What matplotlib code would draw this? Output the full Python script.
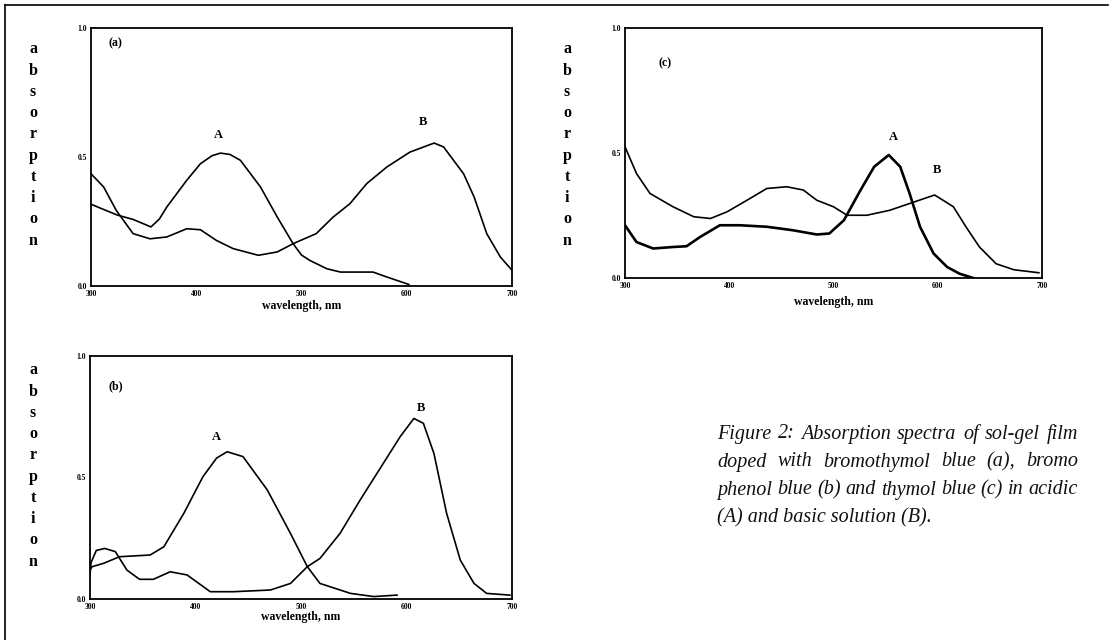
import matplotlib.pyplot as plt
from matplotlib.lines import Line2D

plt.rcParams['font.family'] = ['Liberation Serif', 'DejaVu Serif']

# (a) bromothymol blue
a_wl_acid = [300, 310, 325, 340, 357, 365, 372, 391, 404, 415, 423, 432, 442, 461, 477, 492, 500,
             508, 524, 537, 568, 581, 602]
a_abs_acid = [0.317, 0.30, 0.275, 0.258, 0.229, 0.26, 0.306, 0.41, 0.474, 0.505, 0.515, 0.51, 0.487,
              0.384, 0.267, 0.164, 0.12, 0.099, 0.067, 0.054, 0.054, 0.035, 0.006]
a_wl_base = [300, 312, 324, 340, 356, 372, 391, 404, 419, 435, 459, 477, 492, 514, 530, 546, 562,
             581, 603, 626, 635, 654, 664, 676, 689, 700]
a_abs_base = [0.435, 0.384, 0.293, 0.203, 0.183, 0.19, 0.222, 0.218, 0.177, 0.145, 0.119, 0.132,
              0.164, 0.203, 0.267, 0.319, 0.397, 0.461, 0.519, 0.554, 0.539, 0.435, 0.345, 0.203,
              0.112, 0.061]

# (b) bromophenol blue
b_wl_acid = [300, 302, 313, 328, 357, 370, 389, 407, 420, 430, 445, 468, 490, 506, 518, 547, 569, 591]
b_abs_acid = [0.12, 0.133, 0.147, 0.174, 0.181, 0.215, 0.353, 0.503, 0.58, 0.606, 0.586, 0.449,
              0.27, 0.133, 0.064, 0.023, 0.01, 0.016]
b_wl_base = [300, 301, 306, 314, 324, 335, 347, 360, 376, 392, 414, 436, 471, 490, 506, 518, 537,
             556, 578, 594, 607, 616, 626, 638, 651, 664, 676, 698]
b_abs_base = [0.10, 0.15, 0.20, 0.208, 0.195, 0.119, 0.081, 0.081, 0.112, 0.099, 0.03, 0.03, 0.037,
              0.064, 0.133, 0.167, 0.27, 0.407, 0.558, 0.668, 0.743, 0.723, 0.599, 0.353, 0.16,
              0.064, 0.023, 0.016]

# (c) thymol blue
c_wl_acid = [300, 311, 327, 346, 359, 372, 391, 410, 436, 461, 484, 496, 510, 526, 539, 553, 564,
             573, 583, 596, 609, 621, 634]
c_abs_acid = [0.211, 0.144, 0.118, 0.124, 0.127, 0.164, 0.211, 0.211, 0.205, 0.191, 0.174, 0.178,
              0.231, 0.352, 0.445, 0.492, 0.445, 0.338, 0.205, 0.098, 0.044, 0.017, 0.0]
c_wl_base = [300, 311, 324, 346, 366, 382, 398, 417, 436, 455, 471, 484, 500, 513, 532, 554, 573,
             597, 615, 627, 640, 656, 673, 697]
c_abs_base = [0.525, 0.418, 0.338, 0.285, 0.245, 0.238, 0.265, 0.311, 0.358, 0.365, 0.352, 0.311,
              0.285, 0.251, 0.251, 0.271, 0.298, 0.332, 0.285, 0.205, 0.124, 0.057, 0.033, 0.021]

x_ticks = [300, 400, 500, 600, 700]
y_ticks = [0.0, 0.5, 1.0]
y_ticklabels = ['0.0', '0.5', '1.0']

caption_lines = [
    'Figure 2:  Absorption spectra of sol-gel film',
    'doped with bromothymol blue (a), bromo',
    'phenol blue (b) and thymol blue (c)  in acidic',
    '(A) and basic solution (B).',
]

W, H = 1112, 640
fig = plt.figure(figsize=(W / 100, H / 100), dpi=100)


def panel(rect, wl_a, ab_a, wl_b, ab_b, tag, tag_xy, a_xy, b_xy, lw_a=1.2, labelpad=1):
    ax = fig.add_axes(rect)
    ax.plot(wl_a, ab_a, color='black', lw=lw_a)
    ax.plot(wl_b, ab_b, color='black', lw=1.2)
    ax.set_xlim(300, 700)
    ax.set_ylim(0, 1.0)
    ax.set_xticks(x_ticks)
    ax.set_yticks(y_ticks)
    ax.set_yticklabels(y_ticklabels)
    ax.tick_params(length=0, labelsize=5.5, pad=3)
    for lab in ax.get_xticklabels() + ax.get_yticklabels():
        lab.set_fontweight('bold')
    for s in ax.spines.values():
        s.set_linewidth(1.3)
    ax.set_xlabel('wavelength, nm', fontsize=8.5, fontweight='bold', labelpad=labelpad)
    ax.text(*tag_xy, tag, fontsize=8.5, fontweight='bold', ha='center', va='center')
    ax.text(*a_xy, 'A', fontsize=9, fontweight='bold', ha='center', va='center')
    ax.text(*b_xy, 'B', fontsize=9, fontweight='bold', ha='center', va='center')
    return ax


panel([91 / W, 1 - 286 / H, 421 / W, 258 / H], a_wl_acid, a_abs_acid, a_wl_base, a_abs_base,
      '(a)', (323, 0.94), (421, 0.584), (615, 0.636))
panel([625 / W, 1 - 278 / H, 417 / W, 250 / H], c_wl_acid, c_abs_acid, c_wl_base, c_abs_base,
      '(c)', (338, 0.86), (557, 0.566), (599, 0.432), lw_a=1.9, labelpad=4)
panel([90 / W, 1 - 599 / H, 422 / W, 243 / H], b_wl_acid, b_abs_acid, b_wl_base, b_abs_base,
      '(b)', (324, 0.874), (420, 0.668), (614, 0.785), labelpad=0)

# stacked y labels
for x, y in [(33, 145), (567, 145), (33, 466)]:
    fig.text(x / W, 1 - y / H, '\n'.join('absorption'), fontsize=11.5, fontweight='bold',
             ha='center', va='center', linespacing=1.44)

# page frame
fig.add_artist(Line2D([5 / W, 1108 / W], [1 - 5 / H, 1 - 5 / H], color='black', lw=1.2))
fig.add_artist(Line2D([5 / W, 5 / W], [1 - 5 / H, 0], color='black', lw=1.2))

# justified caption
renderer = fig.canvas.get_renderer()
x0, x1 = 717, 1078
for i, line in enumerate(caption_lines):
    y = 1 - (434 + 28 * i) / H
    style = dict(fontsize=14.5, style='italic', va='center', ha='left', color='#111111')
    if i == len(caption_lines) - 1:
        fig.text(x0 / W, y, line, **style)
        continue
    words = line.split()
    texts = [fig.text(0, y, w, **style) for w in words]
    widths = [t.get_window_extent(renderer).width for t in texts]
    gap = (x1 - x0 - sum(widths)) / (len(words) - 1)
    x = x0
    for t, w in zip(texts, widths):
        t.set_x(x / W)
        x += w + gap

fig.savefig('out.png', dpi=100)
